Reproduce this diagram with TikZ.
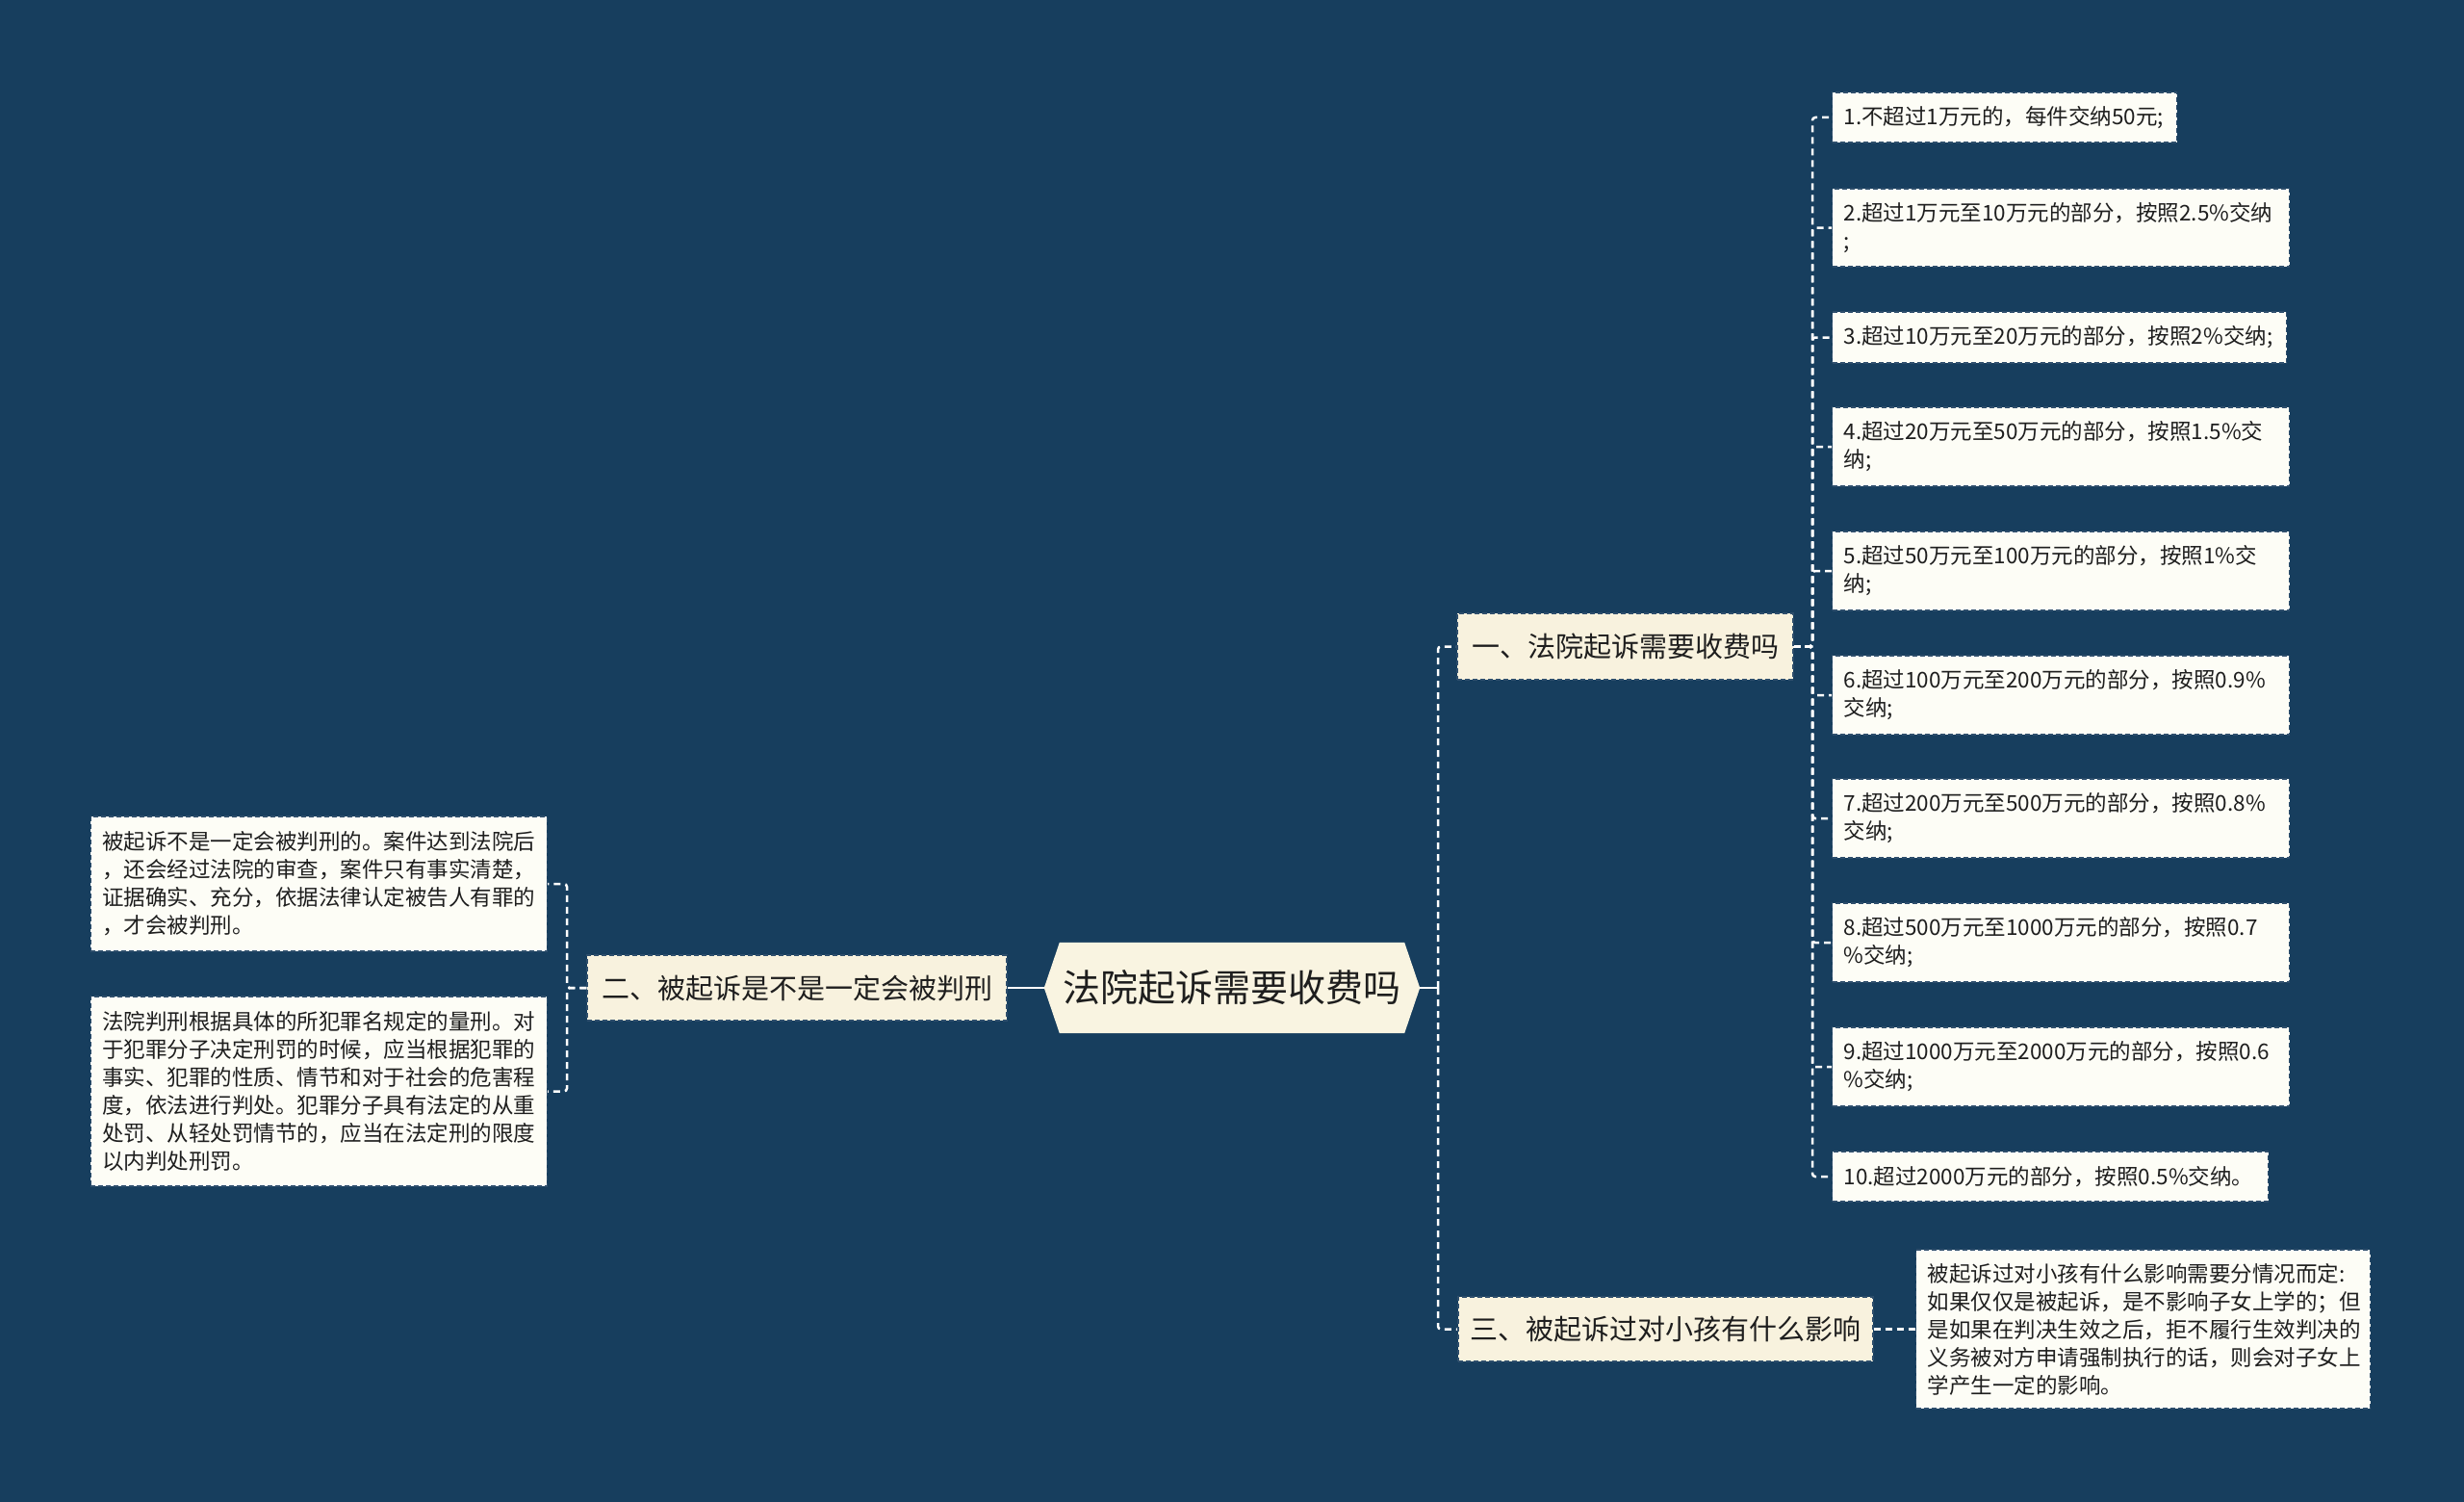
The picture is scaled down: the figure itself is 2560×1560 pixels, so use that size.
\documentclass[tikz,border=0pt]{standalone}
\usepackage{fontspec}
\setmainfont{Noto Sans CJK SC}
\usetikzlibrary{backgrounds}
\definecolor{bg}{HTML}{173E5E}
\definecolor{rootfill}{HTML}{F9F4E1}
\definecolor{brfill}{HTML}{F8F2DE}
\definecolor{leaffill}{HTML}{FDFDF6}
\definecolor{txt}{HTML}{1E1E1E}
\definecolor{boxline}{HTML}{2E4E6C}
\begin{document}
\begin{tikzpicture}[x=1pt,y=-1pt,
  box/.style={draw=boxline, dash pattern=on 5pt off 3pt, line width=1.4pt, text=txt, inner ysep=0pt},
  leaf/.style={box, fill=leaffill, font=\fontsize{22.5}{29}\selectfont, inner xsep=12pt, align=left},
  branch/.style={box, fill=brfill, font=\fontsize{29}{35}\selectfont, inner xsep=0pt, align=center},
  conn/.style={draw=white, line width=2.5pt, dash pattern=on 7pt off 5pt, rounded corners=3pt},
  solidc/.style={draw=white, line width=2.5pt}
]
\useasboundingbox (0,0) rectangle (2560,1560);

% root
\node[minimum width=390pt, minimum height=94pt, inner sep=0pt, text=txt,
      font=\fontsize{39}{45}\selectfont] (root) at (1280,1026) {法院起诉需要收费吗};

% branches
\node[branch, minimum width=349pt, minimum height=69pt] (b1) at (1688.5,671.5) {一、法院起诉需要收费吗};
\node[branch, minimum width=436pt, minimum height=68pt] (b2) at (828,1026) {二、被起诉是不是一定会被判刑};
\node[branch, minimum width=431pt, minimum height=67pt] (b3) at (1730.5,1380.5) {三、被起诉过对小孩有什么影响};

% right leaves
\node[leaf, anchor=west, text width=334pt, minimum height=52pt] (l1) at (1903,122) {1.不超过1万元的，每件交纳50元;};
\node[leaf, anchor=west, text width=451pt, minimum height=81pt] (l2) at (1903,236.5) {2.超过1万元至10万元的部分，按照2.5\%交纳\\;};
\node[leaf, anchor=west, text width=448pt, minimum height=53pt] (l3) at (1903,350.5) {3.超过10万元至20万元的部分，按照2\%交纳;};
\node[leaf, anchor=west, text width=451pt, minimum height=82pt] (l4) at (1903,464) {4.超过20万元至50万元的部分，按照1.5\%交\\纳;};
\node[leaf, anchor=west, text width=451pt, minimum height=82pt] (l5) at (1903,593) {5.超过50万元至100万元的部分，按照1\%交\\纳;};
\node[leaf, anchor=west, text width=451pt, minimum height=82pt] (l6) at (1903,722) {6.超过100万元至200万元的部分，按照0.9\%\\交纳;};
\node[leaf, anchor=west, text width=451pt, minimum height=82pt] (l7) at (1903,850) {7.超过200万元至500万元的部分，按照0.8\%\\交纳;};
\node[leaf, anchor=west, text width=451pt, minimum height=82pt] (l8) at (1903,979) {8.超过500万元至1000万元的部分，按照0.7\\\%交纳;};
\node[leaf, anchor=west, text width=451pt, minimum height=82pt] (l9) at (1903,1108) {9.超过1000万元至2000万元的部分，按照0.6\\\%交纳;};
\node[leaf, anchor=west, text width=429pt, minimum height=52pt] (l10) at (1903,1222) {10.超过2000万元的部分，按照0.5\%交纳。};

% left leaves
\node[leaf, anchor=east, text width=450pt, minimum height=140pt] (la) at (569,918) {被起诉不是一定会被判刑的。案件达到法院后\\，还会经过法院的审查，案件只有事实清楚，\\证据确实、充分，依据法律认定被告人有罪的\\，才会被判刑。};
\node[leaf, anchor=east, text width=450pt, minimum height=197pt] (lb) at (569,1133.5) {法院判刑根据具体的所犯罪名规定的量刑。对\\于犯罪分子决定刑罚的时候，应当根据犯罪的\\事实、犯罪的性质、情节和对于社会的危害程\\度，依法进行判处。犯罪分子具有法定的从重\\处罚、从轻处罚情节的，应当在法定刑的限度\\以内判处刑罚。};

% branch 3 leaf
\node[leaf, anchor=west, text width=448pt, minimum height=165pt] (lc) at (1990,1380.5) {被起诉过对小孩有什么影响需要分情况而定:\\如果仅仅是被起诉，是不影响子女上学的；但\\是如果在判决生效之后，拒不履行生效判决的\\义务被对方申请强制执行的话，则会对子女上\\学产生一定的影响。};

\begin{scope}[on background layer]
  \fill[bg] (0,0) rectangle (2560,1560);
  \fill[rootfill] (root.west) -- ([xshift=16pt]root.north west) -- ([xshift=-16pt]root.north east)
     -- (root.east) -- ([xshift=-16pt]root.south east) -- ([xshift=16pt]root.south west) -- cycle;

  \coordinate (rj) at (1494,1026);
  \coordinate (j1) at (1883,671.5);
  \coordinate (j2) at (589,1026);

  \draw[solidc] (root.west) -- (b2.east);
  \draw[solidc] (root.east) -- (rj);
  \draw[conn] (rj) |- (b1.west);
  \draw[conn] (rj) |- (b3.west);

  \foreach \n in {l1,l2,l3,l4,l5,l6,l7,l8,l9,l10}{
    \draw[conn] (b1.east) -- (j1) |- (\n.west);
  }
  \draw[conn] (b2.west) -- (j2) |- (la.east);
  \draw[conn] (b2.west) -- (j2) |- (lb.east);
  \draw[conn] (b3.east) -- (lc.west);
\end{scope}
\end{tikzpicture}
\end{document}
